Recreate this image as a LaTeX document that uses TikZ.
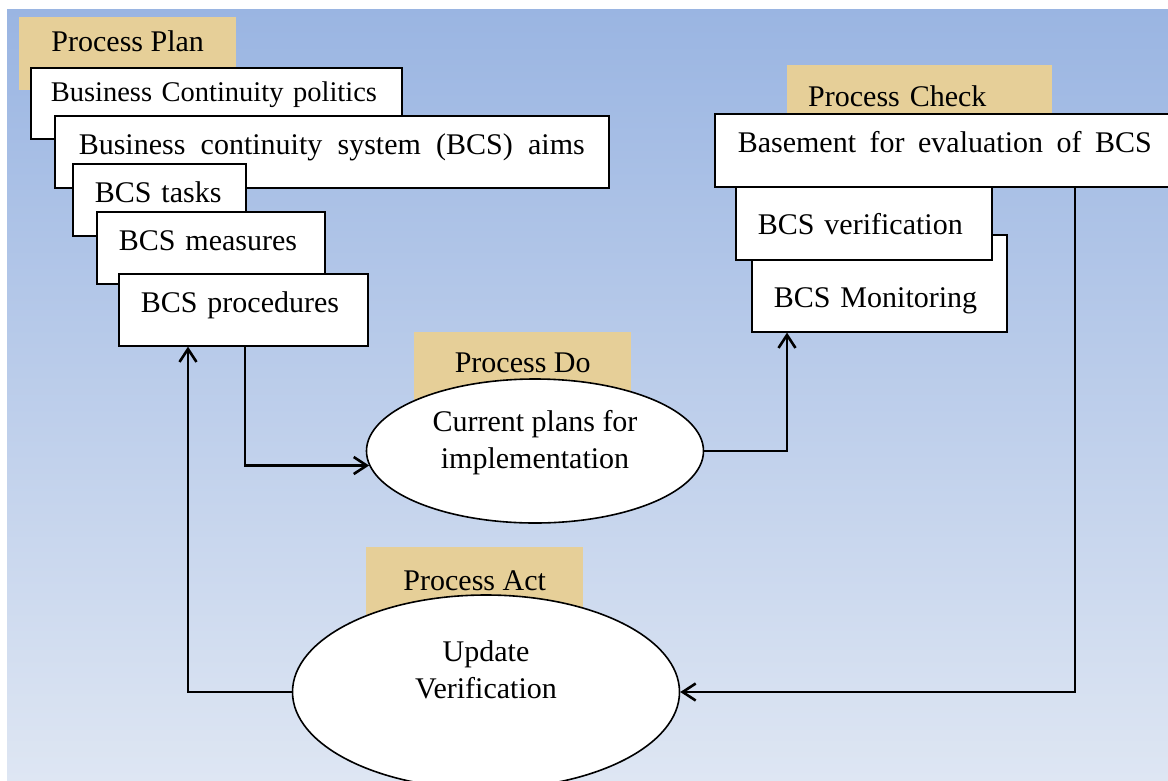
\documentclass[tikz,border=0pt]{standalone}
\usepackage{fontspec}
\setmainfont{Liberation Serif}
\usepackage{tikz}
\usetikzlibrary{arrows.meta}
\usetikzlibrary{calc}
\usetikzlibrary{shapes.geometric}

\definecolor{parch}{RGB}{230,207,152}
\definecolor{skytop}{RGB}{154,181,226}
\definecolor{skybot}{RGB}{222,230,243}

\begin{document}
\begin{tikzpicture}[x=1pt, y=-1pt,
	font=\fontsize{30}{37}\selectfont,
	tile/.style={fill=parch, anchor=north west, inner sep=0pt, minimum width=217pt, text height=40pt, text depth=33pt},
	stepbox/.style={draw, line width=1.6pt, fill=white, anchor=north west, inner ysep=0pt, inner xsep=22pt, align=left, text height=39pt, text depth=33pt},
	oval/.style={draw, ellipse, line width=1.6pt, fill=white, inner sep=0pt, align=center},
	flow/.style={line width=2.6pt, -{Straight Barb[length=13pt, width=17pt]}}
]
\useasboundingbox (0,0) rectangle (1168,780);
\clip (0,0) rectangle (1168,780);
\shade[top color=skytop, bottom color=skybot] (7,9) rectangle (1168,780);

\node[tile, text height=34pt, text depth=39pt] (plantile) at (19,17) {Process Plan};
\node[tile, text width=223pt, inner xsep=21pt, align=left, text height=41pt, text depth=32pt] (checktile) at (787,65) {Process Check};
\node[tile] (dotile) at (414,332) {Process Do};
\node[tile, text height=43pt] (acttile) at (366,547) {Process Act};

\node[stepbox, font=\fontsize{28.5}{37}\selectfont, text width=331pt, inner xsep=20pt, text height=34pt, text depth=37pt] (politics) at (30,67) {\mbox{Business Continuity politics}};
\node[stepbox, text width=506pt, inner xsep=24pt] (aims) at (54,115) {Business\hfill continuity\hfill system\hfill (BCS)\hfill aims};
\node[stepbox, text width=129pt] (tasks) at (72,163) {BCS tasks};
\node[stepbox, text width=184pt] (measures) at (96,211) {BCS measures};
\node[stepbox, text width=205pt] (procedures) at (118,273) {BCS procedures};

\node[stepbox, text width=211pt, text height=73pt, text depth=24pt] (monitoring) at (751,234) {BCS Monitoring};
\node[stepbox, text width=212pt, text height=59pt, text depth=25pt] (verification) at (735,175) {BCS verification};
\node[stepbox, text width=414pt, inner xsep=23pt, text depth=34pt] (basement) at (714,113) {Basement\hfill for\hfill evaluation\hfill of\hfill BCS};

\node[oval, minimum width=337pt, minimum height=144pt, text height=60pt, text depth=26pt] (plans) at (535,451) {Current plans for\\implementation};
\node[oval, minimum width=387pt, minimum height=194pt, text height=60pt, text depth=48pt] (update) at (486,692) {Update\\Verification};

\draw[flow] ($(procedures.south west)+(127,0)$) |- (plans.185);
\draw[flow] (plans.east) -| ($(monitoring.south west)+(36,0)$);
\draw[flow] ($(basement.south west)+(361,0)$) |- (update.east);
\draw[flow] (update.west) -| ($(procedures.south west)+(70,0)$);
\end{tikzpicture}
\end{document}
